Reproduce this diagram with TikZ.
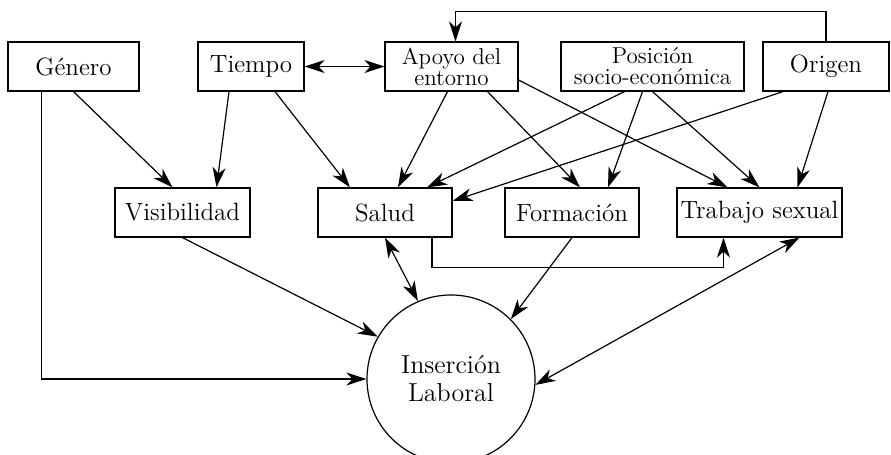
\documentclass[tikz,border=0pt]{standalone}
\usepackage{tikz}
\usetikzlibrary{arrows.meta, positioning, calc, shapes.geometric}

\begin{document}
\begin{tikzpicture}[x=0.5pt, y=-0.5pt, line width=0.6pt,
    >={Stealth[length=10pt, width=6.5pt, inset=3pt]},
    every node/.style={font=\fontsize{12.5}{14}\selectfont},
    caja/.style={draw, rectangle, minimum height=24.5pt, inner sep=0pt, align=center},
    chica/.style={font=\fontsize{11.5}{10.5}\selectfont},
    ronda/.style={draw, circle, minimum size=84pt, inner sep=0pt, align=center}]
    \useasboundingbox (0,0) rectangle (891,455);

    % --- Fila superior: factores ---
    \node[caja, minimum width=65.5pt] (genero) at (73.5, 66.5) {Género};
    \node[caja, minimum width=53pt] (tiempo) at (251, 66.5) {Tiempo};
    \node[caja, chica, minimum width=66.5pt] (apoyo) at (451.5, 66.5) {Apoyo del\\entorno};
    \node[caja, chica, minimum width=91.5pt] (posicion) at (652.5, 66.5) {Posición\\socio-económica};
    \node[caja, minimum width=63pt] (origen) at (826, 66.5) {Origen};

    % --- Fila del medio ---
    \node[caja, minimum width=67.5pt] (visib) at (182.5, 212.5) {Visibilidad};
    \node[caja, minimum width=67pt] (salud) at (385, 212.5) {Salud};
    \node[caja, minimum width=67pt] (formacion) at (572, 212.5) {Formación};
    \node[caja, minimum width=82.5pt] (trabajo) at (759.5, 212.5) {Trabajo sexual};

    % --- Resultado ---
    \node[ronda, font=\fontsize{13}{14}\selectfont] (insercion) at (451, 379) {Inserción\\Laboral};

    % Origen vuelve arriba hacia el apoyo
    \draw[->] (origen.north) -- ++(0,-30) -| ([xshift=2pt]apoyo.north);
    \draw[<->] (tiempo.east) -- (apoyo.west);

    % Flechas desde la fila superior
    \draw[->] (genero.south) -- ([xshift=-5pt]visib.north);
    \draw[->] ([xshift=-16pt]genero.south) |- (insercion.west);
    \draw[->] ([xshift=-11pt]tiempo.south) -- ([xshift=17pt]visib.north);
    \draw[->] ([xshift=12pt]tiempo.south) -- ([xshift=-17.5pt]salud.north);
    \draw[->] ([xshift=-2pt]apoyo.south) -- ([xshift=6.5pt]salud.north);
    \draw[->] ([xshift=18pt]apoyo.south) -- ([xshift=4pt]formacion.north);
    \draw[->] ([yshift=-6.75pt]apoyo.east) -- ([xshift=-16pt]trabajo.north);
    \draw[->] ([xshift=-14pt]posicion.south) -- ([xshift=21pt]salud.north);
    \draw[->] ([xshift=-5pt]posicion.south) -- ([xshift=18pt]formacion.north);
    \draw[->] (posicion.south) -- (trabajo.north);
    \draw[->] ([xshift=-21.5pt]origen.south) -- ([yshift=5.75pt]salud.east);
    \draw[->] ([xshift=1pt]origen.south) -- ([xshift=19pt]trabajo.north);

    % Salud conecta por debajo con trabajo sexual
    \draw[->] ([xshift=23.5pt]salud.south) -- ++(0,30) -| ([xshift=-18pt]trabajo.south);

    % Flechas hacia la insercion laboral
    \draw[->] (visib.south) -- (insercion.150);
    \draw[<->] (salud.south) -- (insercion.113);
    \draw[->] (formacion.south) -- (insercion.45);
    \draw[<->] ([xshift=20pt]trabajo.south) -- (insercion.-4);

\end{tikzpicture}
\end{document}
